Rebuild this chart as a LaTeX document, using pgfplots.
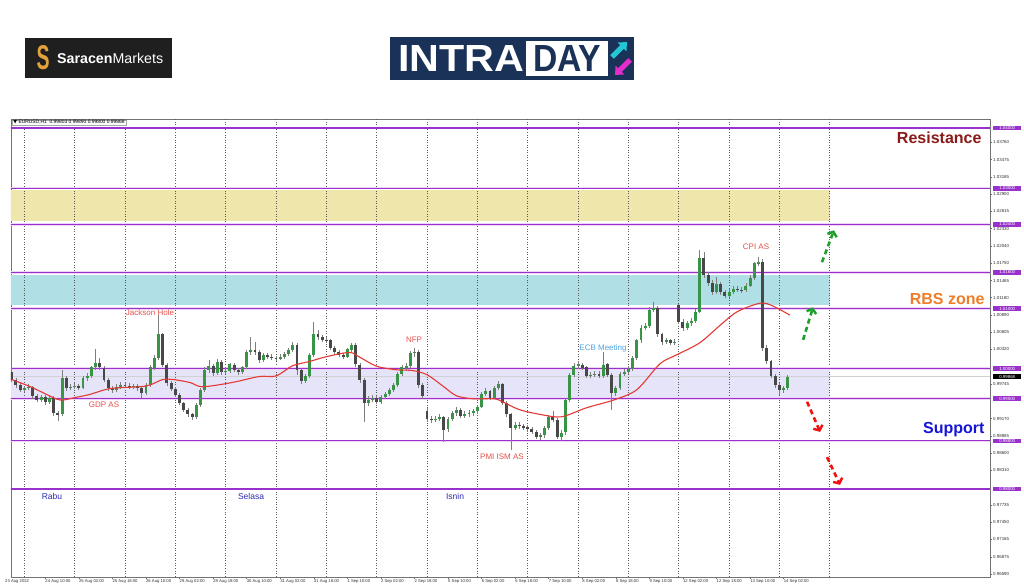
\documentclass[border=0pt]{standalone}
\usepackage{graphicx}
\usepackage{pgfplots}
\pgfplotsset{compat=1.18}
\usepackage{pgfplotstable}
\usetikzlibrary{arrows.meta}
\usepackage{fontspec}
\setmainfont{Liberation Sans}
\newfontfamily\dejavu{DejaVu Sans}
\definecolor{zyellow}{HTML}{EEE6AA}
\definecolor{zblue}{HTML}{B0E0E6}
\definecolor{zlav}{HTML}{E6E4F8}
\definecolor{lvl}{HTML}{9932CC}
\definecolor{lvlglow}{HTML}{F0D4F6}
\definecolor{ma}{HTML}{E53935}
\definecolor{bull}{HTML}{3A9448}
\definecolor{bear}{HTML}{484848}
\definecolor{wick}{HTML}{7E7E7E}
\definecolor{evt}{HTML}{E8504A}
\definecolor{ecb}{HTML}{4FA3E0}
\definecolor{dayc}{HTML}{2B2BB5}
\definecolor{resist}{HTML}{8B1A1A}
\definecolor{rbs}{HTML}{F07D2A}
\definecolor{supp}{HTML}{1515D5}
\definecolor{navy}{HTML}{1A3258}
\definecolor{gold}{HTML}{E2A33A}
\definecolor{arrgreen}{HTML}{1E9E2A}
\definecolor{arrred}{HTML}{F01010}
\definecolor{icyan}{HTML}{22C7D6}
\definecolor{imag}{HTML}{E52BC9}

\pgfplotstableread{
x o h l c
-6 0.9995 1.0002 0.9978 0.9982
-4 0.9982 0.9985 0.9968 0.9973
-2 0.9973 0.9977 0.9961 0.9965
0 0.9965 0.9972 0.9962 0.9968
2 0.9968 0.9974 0.9964 0.9970
4 0.9970 0.9972 0.9950 0.9955
6 0.9955 0.9958 0.9944 0.9948
8 0.9948 0.9957 0.9945 0.9953
10 0.9953 0.9956 0.9940 0.9945
12 0.9945 0.9955 0.9941 0.9952
14 0.9952 0.9954 0.9922 0.9927
16 0.9927 0.9930 0.9914 0.9924
18 0.9924 0.9998 0.9921 0.9985
20 0.9985 0.9988 0.9963 0.9968
22 0.9968 0.9975 0.9965 0.9970
24 0.9970 0.9977 0.9966 0.9972
26 0.9972 0.9975 0.9964 0.9968
28 0.9968 0.9988 0.9966 0.9985
30 0.9985 0.9993 0.9980 0.9988
32 0.9988 1.0005 0.9985 1.0002
34 1.0002 1.0032 0.9998 1.0010
36 1.0010 1.0018 0.9998 1.0002
38 1.0002 1.0005 0.9978 0.9982
40 0.9982 0.9985 0.9963 0.9968
42 0.9968 0.9972 0.9960 0.9965
44 0.9965 0.9975 0.9962 0.9970
46 0.9970 0.9978 0.9967 0.9973
48 0.9973 0.9977 0.9968 0.9972
50 0.9972 0.9976 0.9966 0.9970
52 0.9970 0.9975 0.9967 0.9972
54 0.9972 0.9974 0.9963 0.9968
56 0.9968 0.9970 0.9952 0.9960
58 0.9960 0.9976 0.9957 0.9973
60 0.9973 1.0007 0.9970 1.0002
62 1.0002 1.0023 0.9998 1.0018
64 1.0018 1.0090 1.0015 1.0057
66 1.0057 1.0060 1.0003 1.0007
68 1.0007 1.0010 0.9972 0.9977
70 0.9977 0.9980 0.9963 0.9967
72 0.9967 0.9970 0.9953 0.9957
74 0.9957 0.9960 0.9940 0.9943
76 0.9943 0.9945 0.9928 0.9932
78 0.9932 0.9935 0.9920 0.9924
80 0.9924 0.9927 0.9914 0.9920
82 0.9920 0.9943 0.9917 0.9940
84 0.9940 0.9968 0.9937 0.9965
86 0.9965 1.0002 0.9962 0.9998
88 0.9998 1.0015 0.9993 1.0005
90 1.0005 1.0008 0.9988 0.9993
92 0.9993 1.0017 0.9990 1.0012
94 1.0012 1.0015 0.9990 0.9995
96 0.9995 1.0002 0.9992 0.9997
98 0.9997 1.0010 0.9993 1.0007
100 1.0007 1.0010 0.9994 0.9998
102 0.9998 1.0002 0.9990 0.9995
104 0.9995 1.0005 0.9992 1.0002
106 1.0002 1.0032 0.9999 1.0028
108 1.0028 1.0053 1.0023 1.0032
110 1.0032 1.0045 1.0023 1.0028
112 1.0028 1.0032 1.0010 1.0015
114 1.0015 1.0027 1.0012 1.0023
116 1.0023 1.0026 1.0016 1.0020
118 1.0020 1.0024 1.0014 1.0018
120 1.0018 1.0022 1.0013 1.0017
122 1.0017 1.0024 1.0014 1.0020
124 1.0020 1.0028 1.0017 1.0025
126 1.0025 1.0035 1.0022 1.0032
128 1.0032 1.0045 1.0028 1.0040
130 1.0040 1.0042 0.9990 0.9998
132 0.9998 1.0000 0.9975 0.9980
134 0.9980 0.9992 0.9977 0.9988
136 0.9988 1.0026 0.9985 1.0023
138 1.0023 1.0078 1.0020 1.0057
140 1.0057 1.0065 1.0048 1.0052
142 1.0052 1.0056 1.0044 1.0048
144 1.0048 1.0053 1.0043 1.0047
146 1.0047 1.0049 1.0031 1.0035
148 1.0035 1.0038 1.0024 1.0028
150 1.0028 1.0031 1.0019 1.0023
152 1.0023 1.0026 1.0016 1.0020
154 1.0020 1.0035 1.0017 1.0032
156 1.0032 1.0043 1.0028 1.0040
158 1.0040 1.0042 1.0003 1.0007
160 1.0007 1.0010 0.9977 0.9982
162 0.9982 0.9985 0.9912 0.9943
164 0.9943 0.9955 0.9938 0.9948
166 0.9948 0.9957 0.9944 0.9952
168 0.9952 0.9955 0.9941 0.9945
170 0.9945 0.9957 0.9942 0.9953
172 0.9953 0.9962 0.9950 0.9958
174 0.9958 0.9968 0.9955 0.9965
176 0.9965 0.9977 0.9962 0.9973
178 0.9973 0.9995 0.9970 0.9992
180 0.9992 1.0007 0.9988 1.0002
182 1.0002 1.0010 0.9997 1.0005
184 1.0005 1.0030 1.0002 1.0027
186 1.0027 1.0035 1.0020 1.0028
188 1.0028 1.0031 0.9968 0.9973
190 0.9973 0.9976 0.9950 0.9955
192 0.9930 0.9934 0.9912 0.9917
194 0.9917 0.9922 0.9910 0.9915
196 0.9915 0.9921 0.9911 0.9917
198 0.9917 0.9924 0.9913 0.9920
200 0.9920 0.9922 0.9879 0.9899
202 0.9899 0.9920 0.9895 0.9917
204 0.9917 0.9930 0.9913 0.9927
206 0.9927 0.9937 0.9922 0.9932
208 0.9932 0.9935 0.9918 0.9922
210 0.9922 0.9929 0.9918 0.9925
212 0.9925 0.9931 0.9920 0.9927
214 0.9927 0.9933 0.9922 0.9929
216 0.9929 0.9940 0.9925 0.9937
218 0.9937 0.9962 0.9934 0.9958
220 0.9958 0.9968 0.9955 0.9963
222 0.9963 0.9965 0.9948 0.9952
224 0.9952 0.9972 0.9950 0.9968
226 0.9968 0.9980 0.9965 0.9975
228 0.9975 0.9977 0.9940 0.9943
230 0.9943 0.9946 0.9920 0.9924
232 0.9924 0.9927 0.9865 0.9902
234 0.9902 0.9912 0.9898 0.9907
236 0.9907 0.9912 0.9900 0.9905
238 0.9905 0.9909 0.9898 0.9903
240 0.9903 0.9906 0.9895 0.9900
242 0.9900 0.9903 0.9891 0.9895
244 0.9895 0.9898 0.9883 0.9887
246 0.9887 0.9893 0.9882 0.9889
248 0.9889 0.9905 0.9885 0.9902
250 0.9902 0.9923 0.9899 0.9919
252 0.9919 0.9929 0.9912 0.9915
254 0.9915 0.9918 0.9883 0.9887
256 0.9887 0.9898 0.9880 0.9894
258 0.9894 0.9952 0.9890 0.9948
260 0.9948 0.9993 0.9945 0.9990
262 0.9990 1.0010 0.9987 1.0005
264 1.0005 1.0012 1.0000 1.0007
266 1.0007 1.0010 0.9998 1.0002
268 1.0002 1.0005 0.9985 0.9988
270 0.9988 0.9994 0.9985 0.9990
272 0.9990 0.9996 0.9987 0.9992
274 0.9992 0.9996 0.9984 0.9988
276 0.9988 1.0028 0.9985 1.0007
278 1.0007 1.0010 0.9986 0.9990
280 0.9990 0.9993 0.9932 0.9960
282 0.9960 0.9972 0.9955 0.9968
284 0.9968 0.9995 0.9965 0.9992
286 0.9992 0.9999 0.9988 0.9995
288 0.9995 1.0004 0.9991 1.0000
290 1.0000 1.0021 0.9997 1.0018
292 1.0018 1.0050 1.0015 1.0047
294 1.0047 1.0072 1.0043 1.0068
296 1.0068 1.0076 1.0064 1.0071
298 1.0071 1.0102 1.0068 1.0098
300 1.0098 1.0111 1.0094 1.0101
302 1.0101 1.0104 1.0052 1.0057
304 1.0057 1.0060 1.0040 1.0045
306 1.0045 1.0051 1.0041 1.0047
308 1.0047 1.0050 1.0039 1.0043
310 1.0043 1.0049 1.0040 1.0045
312 1.0106 1.0108 1.0074 1.0078
314 1.0078 1.0082 1.0063 1.0068
316 1.0068 1.0080 1.0064 1.0076
318 1.0076 1.0084 1.0071 1.0080
320 1.0080 1.0099 1.0076 1.0095
322 1.0095 1.0198 1.0092 1.0184
324 1.0184 1.0194 1.0150 1.0156
326 1.0156 1.0160 1.0138 1.0143
328 1.0143 1.0147 1.0122 1.0128
330 1.0128 1.0153 1.0124 1.0140
332 1.0140 1.0144 1.0123 1.0128
334 1.0128 1.0131 1.0117 1.0121
336 1.0121 1.0133 1.0118 1.0128
338 1.0128 1.0137 1.0124 1.0133
340 1.0133 1.0137 1.0127 1.0131
342 1.0131 1.0135 1.0126 1.0130
344 1.0130 1.0142 1.0127 1.0138
346 1.0138 1.0155 1.0135 1.0151
348 1.0151 1.0178 1.0148 1.0175
350 1.0175 1.0186 1.0170 1.0178
352 1.0178 1.0182 1.0030 1.0035
354 1.0035 1.0040 1.0008 1.0012
356 1.0012 1.0015 0.9984 0.9988
358 0.9988 0.9991 0.9968 0.9973
360 0.9973 0.9976 0.9957 0.9965
362 0.9965 0.9972 0.9960 0.9968
364 0.9968 0.9990 0.9965 0.9987
}\candles

\pgfplotstableread{
x ma
-6 0.9982
3 0.9970
9 0.9960
17 0.9948
24 0.9952
31 0.9957
41 0.9967
55 0.9970
60 0.9973
66 0.9982
71 0.9982
79 0.9977
85 0.9970
99 0.9977
112 0.9987
120 0.9988
128 1.0005
136 1.0012
144 1.0020
155 1.0027
160 1.0019
168 1.0004
178 0.9998
185 0.9997
192 0.9990
200 0.9970
206 0.9955
214 0.9950
224 0.9950
228 0.9945
236 0.9932
246 0.9924
256 0.9920
268 0.9935
281 0.9948
292 0.9965
303 1.0008
311 1.0023
322 1.0043
332 1.0073
340 1.0095
351 1.0109
357 1.0104
365 1.0089
}\maline

\begin{document}
\begin{tikzpicture}[x=1pt,y=1pt]
\fill[white] (0,0) rectangle (1024,587);
\useasboundingbox (0,0) rectangle (1024,587);

% ---- logos ----
\fill[black!88] (25,509) rectangle (172,549);
\node[text=gold, inner sep=0pt] at (43,529) {\resizebox{13pt}{24pt}{\bfseries S}};
\node[anchor=west, text=white, inner sep=0pt] at (57,529) {\resizebox{106pt}{!}{{\bfseries Saracen}Markets}};

\fill[navy] (390,507) rectangle (634,550);
\node[anchor=west, text=white, inner sep=0pt] at (398,528.5) {\resizebox{126pt}{26pt}{\bfseries INTRA}};
\fill[white] (526,511) rectangle (608,546);
\node[text=navy, inner sep=0pt] at (567,528.5) {\resizebox{68pt}{26pt}{\bfseries DAY}};
\draw[icyan, line width=5pt, -{Triangle[length=7pt,width=12pt]}] (612,530) -- (627,545);
\draw[imag, line width=5pt, -{Triangle[length=7pt,width=12pt]}] (630,527) -- (615,512);

\begin{axis}[
  at={(11pt,10pt)}, anchor=south west,
  scale only axis, width=979pt, height=458pt,
  xmin=-6.34, xmax=460.4, ymin=0.96538, ymax=1.0415,
  axis line style={draw=black!55, line width=0.7pt},
  xtick={10,26,...,362},
  xticklabels={24 Aug 10:00,25 Aug 02:00,25 Aug 18:00,26 Aug 10:00,29 Aug 02:00,29 Aug 18:00,30 Aug 10:00,31 Aug 02:00,31 Aug 18:00,1 Sep 10:00,2 Sep 02:00,2 Sep 18:00,5 Sep 10:00,6 Sep 02:00,6 Sep 18:00,7 Sep 10:00,8 Sep 02:00,8 Sep 18:00,9 Sep 10:00,12 Sep 02:00,12 Sep 18:00,13 Sep 10:00,14 Sep 02:00},
  xtick pos=bottom, ytick pos=right, yticklabel pos=right,
  tick align=outside, major tick length=2pt,
  tick style={draw=black!55, line width=0.4pt},
  xticklabel style={font=\fontsize{4.2}{5}\selectfont, text=black!80, anchor=north west, inner sep=0pt, yshift=-0.5pt},
  ytick={1.03760,1.03475,1.03185,1.02900,1.02615,1.02330,1.02040,1.01750,1.01465,1.01180,1.00890,1.00605,1.00320,0.99745,0.99170,0.98885,0.98600,0.98310,0.97735,0.97450,0.97165,0.96875,0.96590},
  yticklabels={1.03760,1.03475,1.03185,1.02900,1.02615,1.02330,1.02040,1.01750,1.01465,1.01180,1.00890,1.00605,1.00320,0.99745,0.99170,0.98885,0.98600,0.98310,0.97735,0.97450,0.97165,0.96875,0.96590},
  yticklabel style={font=\fontsize{4.4}{5}\selectfont, text=black!80, anchor=west, inner sep=0pt, xshift=1pt},
  scaled y ticks=false,
]
% zones
\addplot[fill=zyellow, draw=none, forget plot] coordinates {(-10,1.0297) (384,1.0297) (384,1.0245) (-10,1.0245)} -- cycle;
\addplot[fill=zblue, draw=none, forget plot] coordinates {(-10,1.0156) (384,1.0156) (384,1.0106) (-10,1.0106)} -- cycle;
\addplot[fill=zlav, draw=none, forget plot] coordinates {(-10,0.9998) (384,0.9998) (384,0.9951) (-10,0.9951)} -- cycle;
% grid
\pgfplotsinvokeforeach{0,24,...,384}{
  \addplot[black!65, dotted, line width=0.55pt, forget plot] coordinates {(#1,0.96) (#1,1.05)};
}
% levels
\pgfplotsinvokeforeach{1.04,1.03,1.024,1.016,1.01,1.0,0.995,0.988,0.98}{
  \addplot[lvlglow, line width=2.6pt, forget plot] coordinates {(-10,#1) (470,#1)};
  \addplot[lvl, line width=1.1pt, forget plot] coordinates {(-10,#1) (470,#1)};
}
\addplot[black!18, line width=0.6pt, forget plot] coordinates {(-10,0.99868) (470,0.99868)};
% wicks
\addplot[draw=none, mark=none, forget plot,
  error bars/.cd, y dir=both, y explicit, error mark=none,
  error bar style={draw=wick, line width=0.7pt, solid}]
  table[x=x, y expr={(\thisrow{h}+\thisrow{l})/2}, y error expr={(\thisrow{h}-\thisrow{l})/2}] {\candles};
% bull bodies
\addplot[draw=none, mark=none, forget plot, unbounded coords=discard,
  error bars/.cd, y dir=both, y explicit, error mark=none,
  error bar style={draw=bull, line width=2.9pt, solid}]
  table[x=x, y expr={\thisrow{c}>=\thisrow{o} ? (\thisrow{o}+\thisrow{c})/2 : nan}, y error expr={max(abs(\thisrow{c}-\thisrow{o})/2,0.00005)}] {\candles};
% bear bodies
\addplot[draw=none, mark=none, forget plot, unbounded coords=discard,
  error bars/.cd, y dir=both, y explicit, error mark=none,
  error bar style={draw=bear, line width=2.9pt, solid}]
  table[x=x, y expr={\thisrow{c}<\thisrow{o} ? (\thisrow{o}+\thisrow{c})/2 : nan}, y error expr={max(abs(\thisrow{c}-\thisrow{o})/2,0.00005)}] {\candles};
% moving average
\addplot[ma, line width=1.1pt, smooth, tension=0.5, forget plot] table[x=x, y=ma] {\maline};
% arrows
\addplot[arrgreen, line width=2.6pt, dash pattern=on 5pt off 3.5pt, -{Straight Barb[length=4pt,width=10pt,line width=2.4pt]}, forget plot] coordinates {(380.3,1.0177) (386,1.0230)};
\addplot[arrgreen, line width=2.6pt, dash pattern=on 5pt off 3.5pt, -{Straight Barb[length=4pt,width=10pt,line width=2.4pt]}, forget plot] coordinates {(371.3,1.0048) (376,1.0102)};
\addplot[arrred, line width=2.6pt, dash pattern=on 5pt off 3.5pt, -{Straight Barb[length=4pt,width=10pt,line width=2.4pt]}, forget plot] coordinates {(373.2,0.9945) (379.4,0.9895)};
\addplot[arrred, line width=2.6pt, dash pattern=on 5pt off 3.5pt, -{Straight Barb[length=4pt,width=10pt,line width=2.4pt]}, forget plot] coordinates {(382.7,0.9853) (388.9,0.9807)};

\coordinate (L1) at (axis cs:460.4,1.04);
\coordinate (L2) at (axis cs:460.4,1.03);
\coordinate (L3) at (axis cs:460.4,1.024);
\coordinate (L4) at (axis cs:460.4,1.016);
\coordinate (L5) at (axis cs:460.4,1.01);
\coordinate (L6) at (axis cs:460.4,1.0);
\coordinate (L7) at (axis cs:460.4,0.99868);
\coordinate (L8) at (axis cs:460.4,0.995);
\coordinate (L9) at (axis cs:460.4,0.988);
\coordinate (L10) at (axis cs:460.4,0.98);
\end{axis}

% price boxes
\tikzset{pbox/.style={fill=lvl, text=white, font=\fontsize{4.4}{5}\selectfont, inner xsep=1pt, inner ysep=0.8pt, anchor=west, minimum width=28pt}}
\node[pbox] at ([xshift=3pt]L1) {1.04000};
\node[pbox] at ([xshift=3pt]L2) {1.03000};
\node[pbox] at ([xshift=3pt]L3) {1.02400};
\node[pbox] at ([xshift=3pt]L4) {1.01600};
\node[pbox] at ([xshift=3pt]L5) {1.01000};
\node[pbox] at ([xshift=3pt]L6) {1.00000};
\node[pbox, fill=black] at ([xshift=3pt]L7) {0.99868};
\node[pbox] at ([xshift=3pt]L8) {0.99500};
\node[pbox] at ([xshift=3pt]L9) {0.98800};
\node[pbox] at ([xshift=3pt]L10) {0.98000};

% header
\node[anchor=west, draw=black!35, line width=0.3pt, fill=white, inner xsep=1.5pt, inner ysep=0.8pt, font=\fontsize{4.9}{5.5}\selectfont] at (11.8,464.5) {{\dejavu ▼} EURUSD,H1\ \ 0.99803 0.99890 0.99800 0.99868};
\node[anchor=north west, inner sep=0pt, font=\fontsize{4.2}{5}\selectfont, text=black!80] at (5,7.5) {23 Aug 2022};

% annotations
\node[text=evt, font=\fontsize{8}{9}\selectfont] at (150,274) {Jackson Hole};
\node[text=evt, font=\fontsize{8}{9}\selectfont] at (104,182) {GDP AS};
\node[text=evt, font=\fontsize{8}{9}\selectfont] at (414,247) {NFP};
\node[text=evt, font=\fontsize{8}{9}\selectfont] at (502,130) {PMI ISM AS};
\node[text=ecb, font=\fontsize{8}{9}\selectfont] at (603,239) {ECB Meeting};
\node[text=evt, font=\fontsize{8}{9}\selectfont] at (756,340) {CPI AS};
\node[text=dayc, font=\fontsize{8.5}{10}\selectfont] at (52,91) {Rabu};
\node[text=dayc, font=\fontsize{8.5}{10}\selectfont] at (251,91) {Selasa};
\node[text=dayc, font=\fontsize{8.5}{10}\selectfont] at (455,91) {Isnin};
\node[anchor=east, text=resist, font=\fontsize{16}{18}\selectfont\bfseries] at (985,449) {Resistance};
\node[anchor=east, text=rbs, font=\fontsize{16}{18}\selectfont\bfseries] at (988,288) {RBS zone};
\node[anchor=east, text=supp, font=\fontsize{16}{18}\selectfont\bfseries] at (988,157) {Support};
\end{tikzpicture}
\end{document}
